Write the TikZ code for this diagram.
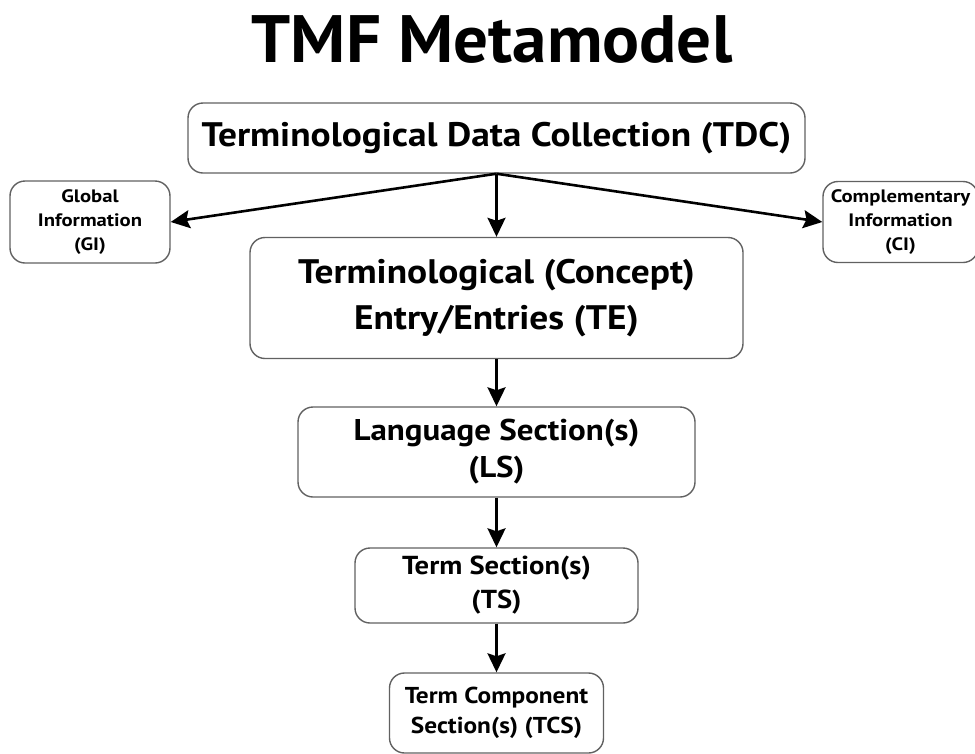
\documentclass[tikz,border=0pt]{standalone}
\usepackage{fontspec}
\setmainfont{PT Sans}[FakeStretch=1.1]
\newfontfamily\titlefont{PT Sans}[FakeStretch=1.03]
\newfontfamily\smallfont{PT Sans}[FakeStretch=1.15]
\usetikzlibrary{arrows.meta}
\begin{document}
\begin{tikzpicture}[x=1pt,y=-1pt,
  box/.style={draw=black!62,line width=1.4pt,rounded corners=15pt,align=center,inner sep=0pt,font=\bfseries},
  arr/.style={line width=2.6pt,-{Stealth[length=19pt,width=18pt,inset=3pt]}}]
\useasboundingbox (0,0) rectangle (975,753);
\node[font=\titlefont\bfseries\fontsize{67}{70}\selectfont] (title) at (492,40) {TMF Metamodel};
\node[box,minimum width=617pt,minimum height=70pt,font=\bfseries\fontsize{34}{36}\selectfont] (tdc) at (496.5,138) {Terminological Data Collection (TDC)};
\node[box,minimum width=160pt,minimum height=82pt,font=\smallfont\bfseries\fontsize{18}{24}\selectfont] (gi) at (90,222) {Global\\Information\\(GI)};
\node[box,minimum width=155pt,minimum height=81pt,font=\smallfont\bfseries\fontsize{18}{24}\selectfont] (ci) at (900.5,222) {Complementary\\Information\\(CI)};
\node[box,minimum width=493pt,minimum height=121pt,font=\bfseries\fontsize{34}{46}\selectfont] (te) at (496.5,298) {Terminological (Concept)\\Entry/Entries (TE)};
\node[box,minimum width=397pt,minimum height=90pt,font=\bfseries\fontsize{30}{37}\selectfont] (ls) at (496.5,452) {Language Section(s)\\(LS)};
\node[box,minimum width=283pt,minimum height=75pt,font=\bfseries\fontsize{26}{34}\selectfont] (ts) at (496.5,585.5) {Term Section(s)\\(TS)};
\node[box,minimum width=214pt,minimum height=80pt,font=\bfseries\fontsize{23}{30}\selectfont] (tcs) at (496.5,713) {Term Component\\Section(s) (TCS)};
\draw[arr] (tdc.south) -- (gi.east);
\draw[arr] (tdc.south) -- (ci.west);
\draw[arr] (tdc.south) -- (te.north);
\draw[arr] (te.south) -- (ls.north);
\draw[arr] (ls.south) -- (ts.north);
\draw[arr] (ts.south) -- (tcs.north);
\end{tikzpicture}
\end{document}
